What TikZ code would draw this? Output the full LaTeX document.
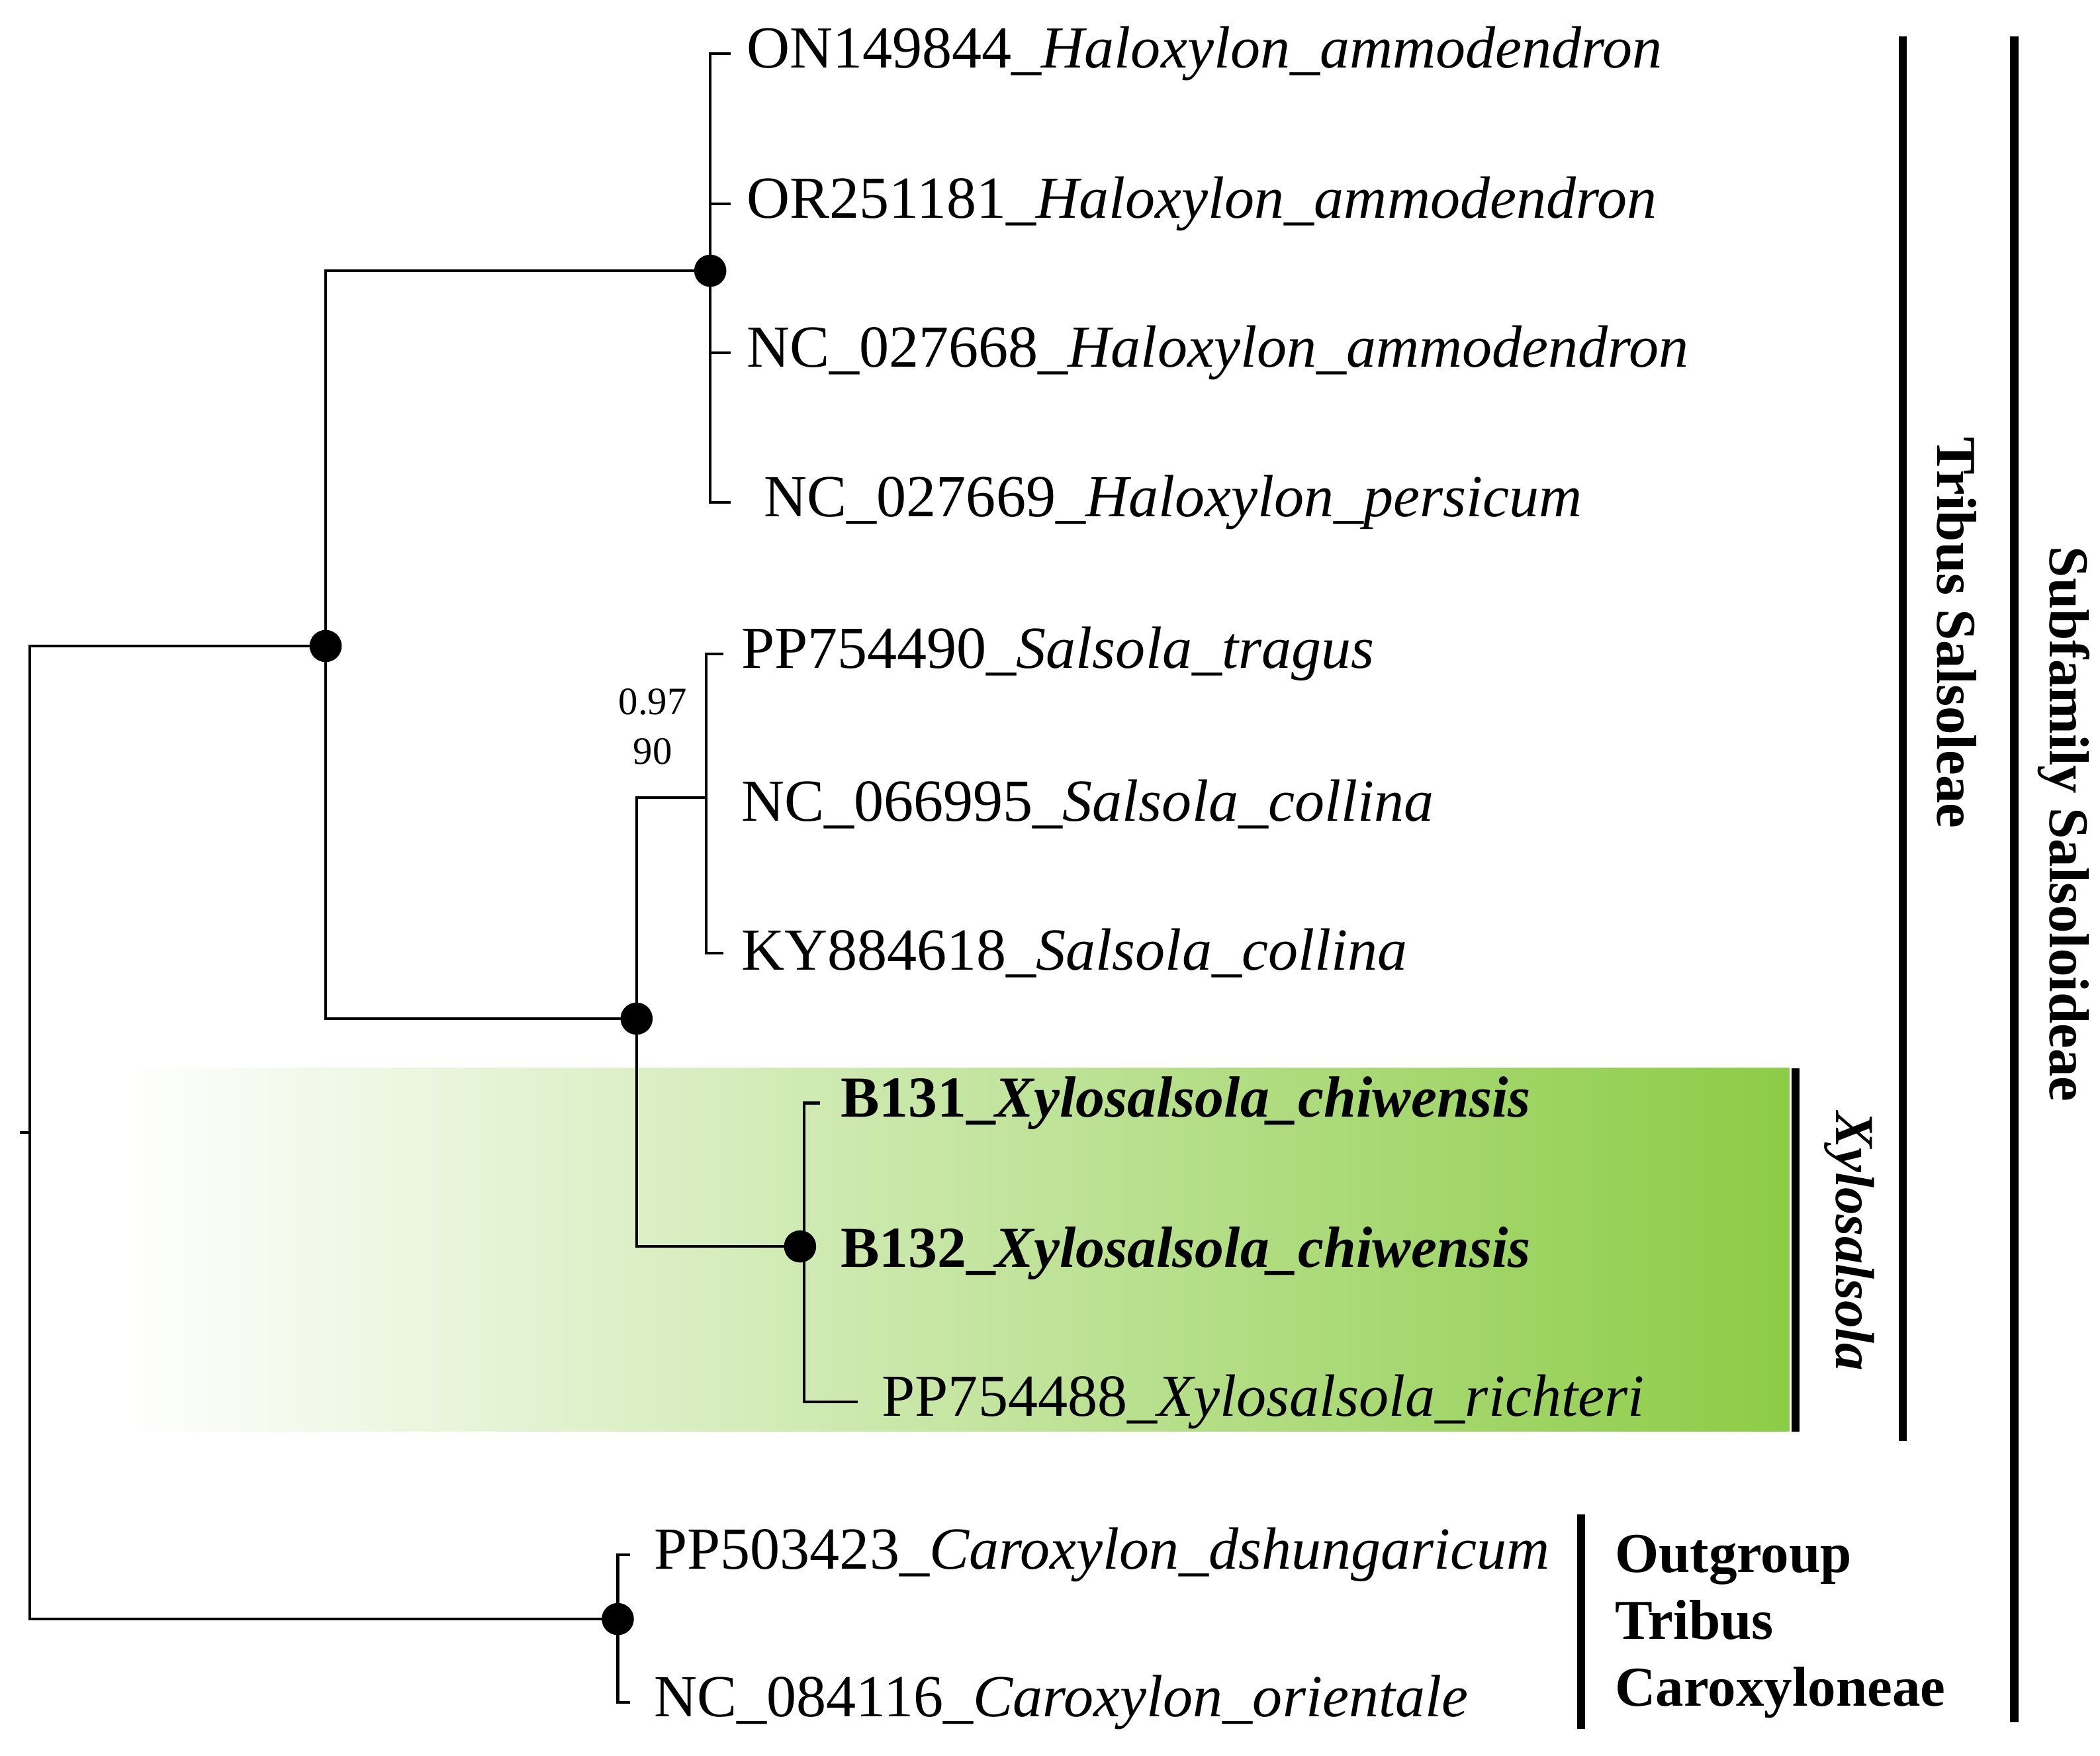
\documentclass[tikz,border=0pt]{standalone}
\usepackage{fontspec}
\setmainfont{Liberation Serif}
\definecolor{gr}{RGB}{140,204,70}
\begin{document}
\begin{tikzpicture}[x=1pt,y=-1pt,
 br/.style={line width=2pt},
 bar/.style={line width=6pt},
 dot/.style={circle,fill=black,inner sep=0pt,minimum size=24pt},
 lf/.style={anchor=west,inner sep=0pt,font=\fontsize{44.5}{44}\selectfont},
 lab/.style={font=\bfseries\fontsize{42}{50}\selectfont}]
\useasboundingbox (0,0) rectangle (1567,1310);
\shade[left color=white,right color=gr] (90,797) rectangle (1335,1068);
% leaves
\node[lf] (l1) at (557,40) {ON149844\_\textit{Haloxylon\_ammodendron}};
\node[lf] (l2) at (557,152) {OR251181\_\textit{Haloxylon\_ammodendron}};
\node[lf] (l3) at (557,263) {NC\_027668\_\textit{Haloxylon\_ammodendron}};
\node[lf] (l4) at (570,375) {NC\_027669\_\textit{Haloxylon\_persicum}};
\node[lf] (l5) at (553,488) {PP754490\_\textit{Salsola\_tragus}};
\node[lf] (l6) at (553,600) {NC\_066995\_\textit{Salsola\_collina}};
\node[lf] (l7) at (553,711) {KY884618\_\textit{Salsola\_collina}};
\node[lf,font=\bfseries\fontsize{43.3}{43}\selectfont] (l8) at (627,823) {B131\_\textit{Xylosalsola\_chiwensis}};
\node[lf,font=\bfseries\fontsize{43.3}{43}\selectfont] (l9) at (627,935) {B132\_\textit{Xylosalsola\_chiwensis}};
\node[lf] (l10) at (658,1046) {PP754488\_\textit{Xylosalsola\_richteri}};
\node[lf] (l11) at (488,1160) {PP503423\_\textit{Caroxylon\_dshungaricum}};
\node[lf] (l12) at (488,1270) {NC\_084116\_\textit{Caroxylon\_orientale}};
% tree
\coordinate (root) at (22,845);
\draw[br] (15,845) -- (root);
\draw[br] (243,482) -- (22,482) -- (22,1208) -- (461,1208);
\draw[br] (530,202) -- (243,202) -- (243,760) -- (475,760);
\draw[br] (545,40) -- (530,40) -- (530,375) -- (545,375);
\draw[br] (530,152) -- (545,152); \draw[br] (530,263) -- (545,263);
\draw[br] (527,595) -- (475,595) -- (475,930) -- (597,930);
\draw[br] (540,488) -- (527,488) -- (527,711) -- (540,711);
\draw[br] (612,823) -- (600,823) -- (600,1046) -- (640,1046);
\draw[br] (470,1160) -- (461,1160) -- (461,1270) -- (470,1270);
\node[dot] (n1) at (530,202) {};
\node[dot] (n2) at (243,482) {};
\node[dot] (n3) at (475,760) {};
\node[dot] (n4) at (597,930) {};
\node[dot] (n5) at (461,1208) {};
\node[font=\fontsize{29}{37}\selectfont,align=center] (sup) at (487,542) {0.97\\90};
% bars
\draw[bar] (1340,797) -- (1340,1068);
\node[font=\bfseries\itshape\fontsize{41}{41}\selectfont,rotate=-90] (xl) at (1380,926) {Xylosalsola};
\draw[bar] (1420,27) -- (1420,1075);
\node[lab,rotate=-90] (ts) at (1460,472) {Tribus Salsoleae};
\draw[bar] (1503,27) -- (1503,1285);
\node[lab,rotate=-90] (sf) at (1540,615) {Subfamily Salsoloideae};
\draw[bar] (1180,1130) -- (1180,1290);
\node[lab,anchor=north west,align=left,inner sep=0pt] (og) at (1205,1145) {Outgroup\\Tribus\\Caroxyloneae};
\end{tikzpicture}
\end{document}
